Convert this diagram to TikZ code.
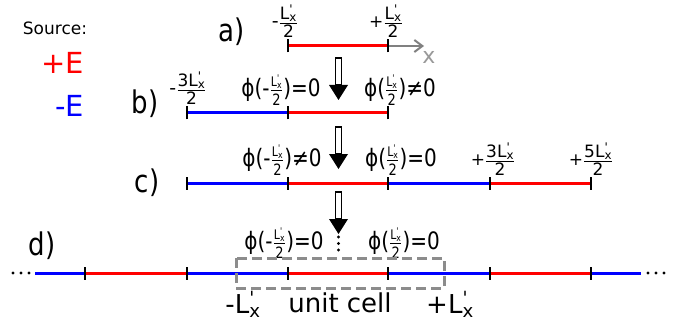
\documentclass[tikz,border=0pt]{standalone}
\usepackage{fontspec}
\usepackage{amsmath}
\usepackage{graphicx}
\setmainfont{DejaVu Sans}
\usetikzlibrary{arrows.meta}
\newcommand{\Lpx}{L\rlap{\textsuperscript{\textquotesingle}}\textsubscript{x}}
\newcommand{\fracx}[2]{\ensuremath{\genfrac{}{}{1pt}{}{\hbox{#1}}{\hbox{#2}}}}
\newcommand{\phival}[3]{ϕ(#1\fracx{\fontsize{11}{11}\selectfont\Lpx}{\fontsize{13}{13}\selectfont 2})#2#3}
\newcommand{\vstretch}[1]{\scalebox{1}[1.2]{#1}}
\tikzset{
  posline/.style={red, line width=3pt},
  negline/.style={blue, line width=3pt},
  tickmark/.style={black, line width=2pt},
  partlabel/.style={font=\fontsize{26}{30}\selectfont, inner sep=0pt},
  ticklabel/.style={font=\fontsize{17}{18}\selectfont, inner sep=0pt},
  philabel/.style={font=\fontsize{20}{22}\selectfont, inner sep=0pt},
  biglabel/.style={font=\fontsize{26}{30}\selectfont, inner sep=0pt},
  dotmark/.style={fill=black},
  hollowdown/.pic={
    \draw[fill=white, line width=1.2pt] (-3,0) rectangle (3,27);
    \fill (-9.5,27) -- (9.5,27) -- (0,42) -- cycle;
  }
}
\begin{document}
\begin{tikzpicture}[x=1pt, y=-1pt]
\useasboundingbox (0,0) rectangle (690,326);

% legend
\node[font=\fontsize{17}{20}\selectfont, inner sep=0pt] (src) at (55,28) {Source:};
\node[font=\fontsize{29}{32}\selectfont, text=red, inner sep=0pt, anchor=east] (pE) at (84,63) {+E};
\node[font=\fontsize{29}{32}\selectfont, text=blue, inner sep=0pt, anchor=east] (mE) at (84,106) {-E};

% part labels
\node[partlabel] (la) at (232,32) {\vstretch{a)}};
\node[partlabel] (lb) at (145,104) {\vstretch{b)}};
\node[partlabel] (lc) at (147,183) {\vstretch{c)}};
\node[partlabel] (ld) at (42,246) {\vstretch{d)}};

% coordinates
\coordinate (aL) at (288,46);
\coordinate (aR) at (388,46);
\coordinate (ax) at (424,46);
\coordinate (b0) at (187,113);
\coordinate (b1) at (288,113);
\coordinate (b2) at (388,113);
\coordinate (c0) at (187,183);
\coordinate (c1) at (288,183);
\coordinate (c2) at (388,183);
\coordinate (c3) at (490,183);
\coordinate (c4) at (591,183);
\coordinate (dS) at (35,273);
\coordinate (d0) at (85,273);
\coordinate (d1) at (187,273);
\coordinate (d2) at (288,273);
\coordinate (d3) at (388,273);
\coordinate (d4) at (490,273);
\coordinate (d5) at (591,273);
\coordinate (dE) at (641,273);

% a)
\draw[posline] (aL) -- (aR);
\draw[gray, line width=2pt, -{Straight Barb[length=8pt, width=12pt, line width=2pt]}] (aR) -- (ax);
\node[text=gray!80, font=\fontsize{22}{24}\selectfont, inner sep=0pt] (xlab) at (429,57) {x};

% b)
\draw[negline] (b0) -- (b1);
\draw[posline] (b1) -- (b2);

% c)
\draw[negline] (c0) -- (c1);
\draw[posline] (c1) -- (c2);
\draw[negline] (c2) -- (c3);
\draw[posline] (c3) -- (c4);

% d)
\draw[negline] (dS) -- (d0);
\draw[posline] (d0) -- (d1);
\draw[negline] (d1) -- (d2);
\draw[posline] (d2) -- (d3);
\draw[negline] (d3) -- (d4);
\draw[posline] (d4) -- (d5);
\draw[negline] (d5) -- (dE);

% ticks
\foreach \p in {aL,aR,b0,b1,b2,c0,c1,c2,c3,c4,d0,d1,d2,d3,d4,d5}
  \draw[tickmark] ([yshift=-6.5pt]\p) -- ([yshift=6.5pt]\p);

% ellipses
\foreach \xx in {13,21,29,648,656,664}
  \fill[dotmark] (\xx,273) circle (1.7);
\foreach \yy in {237,243.5,250}
  \fill[dotmark] (338.5,\yy) circle (1.6);

% tick labels
\node[ticklabel] (ta1) at (285,21) {\fontsize{19}{19}\selectfont-\fracx{\fontsize{17}{18}\selectfont\Lpx}{\fontsize{17}{18}\selectfont 2}};
\node[ticklabel] (ta2) at (386,21) {+\fracx{\Lpx}{2}};
\node[ticklabel] (tb0) at (188,88) {\fontsize{19}{19}\selectfont-\fracx{\fontsize{17}{18}\selectfont 3\Lpx}{\fontsize{17}{18}\selectfont 2}};
\node[ticklabel] (tc3) at (493,159) {+\fracx{3\Lpx}{2}};
\node[ticklabel] (tc4) at (591,159) {+\fracx{5\Lpx}{2}};

% phi labels
\node[philabel] (pb1) at (281,90) {\vstretch{\phival{-}{=}{0}}};
\node[philabel] (pb2) at (400,90) {\vstretch{\phival{}{≠}{0}}};
\node[philabel] (pc1) at (282,160) {\vstretch{\phival{-}{≠}{0}}};
\node[philabel] (pc2) at (401,160) {\vstretch{\phival{}{=}{0}}};
\node[philabel] (pd1) at (284,243) {\vstretch{\phival{-}{=}{0}}};
\node[philabel] (pd2) at (404,243) {\vstretch{\phival{}{=}{0}}};

% arrows between steps
\pic at (338.5,58) {hollowdown};
\pic at (338.5,127) {hollowdown};
\pic at (338.5,192) {hollowdown};

% unit cell
\draw[gray!90, line width=3pt, dash pattern=on 10pt off 5pt] (236,258) rectangle (444,288);
\node[biglabel] (lL) at (243,304) {-\Lpx};
\node[biglabel] (uc) at (340,303) {unit cell};
\node[biglabel] (rL) at (450,304) {+\Lpx};
\end{tikzpicture}
\end{document}
